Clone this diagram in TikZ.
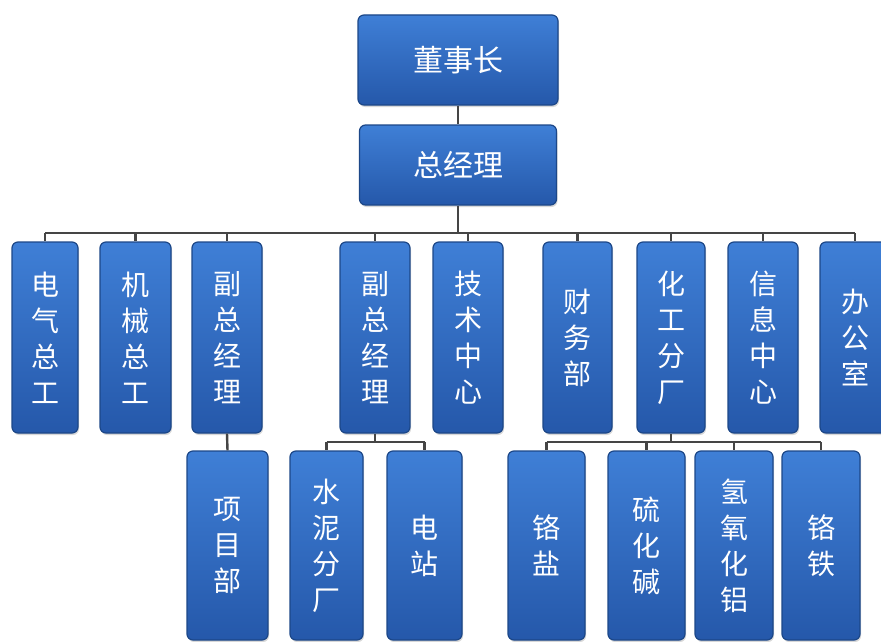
\documentclass[tikz,border=0pt]{standalone}
\usepackage{fontspec}
\newfontfamily\cjk{Noto Sans CJK SC}
\usetikzlibrary{shadows}
\definecolor{boxtop}{HTML}{3F7FD6}
\definecolor{boxmid}{HTML}{2F6CC6}
\definecolor{boxbot}{HTML}{2558AA}
\definecolor{boxedge}{HTML}{1C4788}
\definecolor{lineclr}{HTML}{454545}
\begin{document}
\begin{tikzpicture}[x=1pt,y=-1pt,
  orgbox/.style={rectangle, rounded corners=6pt, draw=boxedge, line width=1.2pt,
    top color=boxtop, middle color=boxmid, bottom color=boxbot,
    text=white, align=center, inner sep=0pt,
    font=\cjk\fontsize{28}{36}\selectfont,
    drop shadow={opacity=0.3, shadow xshift=1pt, shadow yshift=-2pt}},
  topbox/.style={orgbox, font=\cjk\fontsize{30}{36}\selectfont},
  midbox/.style={orgbox, minimum height=191pt},
  botbox/.style={orgbox, minimum height=189pt},
  conn/.style={draw=lineclr, line width=2.4pt}]
\fill[white] (0,0) rectangle (881,642);
\useasboundingbox (0,0) rectangle (881,642);

% top
\node[topbox, minimum width=200pt, minimum height=90pt] (ceo) at (458,60) {董事长};
\node[topbox, minimum width=197pt, minimum height=80pt] (gm) at (458,165) {总经理};

% middle row
\node[midbox, minimum width=66pt] (m1) at (45,337.5) {电\\气\\总\\工};
\node[midbox, minimum width=71pt] (m2) at (135.5,337.5) {机\\械\\总\\工};
\node[midbox, minimum width=70pt] (m3) at (227,337.5) {副\\总\\经\\理};
\node[midbox, minimum width=70pt] (m4) at (375,337.5) {副\\总\\经\\理};
\node[midbox, minimum width=70pt] (m5) at (468,337.5) {技\\术\\中\\心};
\node[midbox, minimum width=69pt] (m6) at (577.5,337.5) {财\\务\\部};
\node[midbox, minimum width=68pt] (m7) at (671,337.5) {化\\工\\分\\厂};
\node[midbox, minimum width=70pt] (m8) at (763,337.5) {信\\息\\中\\心};
\node[midbox, minimum width=70pt] (m9) at (855,337.5) {办\\公\\室};

% bottom row
\node[botbox, minimum width=81pt] (b1) at (227.5,545.5) {项\\目\\部};
\node[botbox, minimum width=73pt] (b2) at (326.5,545.5) {水\\泥\\分\\厂};
\node[botbox, minimum width=75pt] (b3) at (424.5,545.5) {电\\站};
\node[botbox, minimum width=77pt] (b4) at (546.5,545.5) {铬\\盐};
\node[botbox, minimum width=77pt] (b5) at (646.5,545.5) {硫\\化\\碱};
\node[botbox, minimum width=78pt] (b6) at (734,545.5) {氢\\氧\\化\\铝};
\node[botbox, minimum width=78pt] (b7) at (821,545.5) {铬\\铁};

% connectors
\coordinate (bar) at (0,233);
\coordinate (bartwo) at (0,442);
\draw[conn] (ceo.south) -- (gm.north);
\draw[conn] (gm.south) -- (gm.south |- bar);
\draw[conn] (m1.north |- bar) -- (m9.north |- bar);
\foreach \n in {m1,m2,m3,m4,m5,m6,m7,m8,m9}
  \draw[conn] (\n.north |- bar) -- (\n.north);

\draw[conn] (m3.south) -- (b1.north);

\draw[conn] (m4.south) -- (m4.south |- bartwo);
\draw[conn] (b2.north |- bartwo) -- (b3.north |- bartwo);
\foreach \n in {b2,b3}
  \draw[conn] (\n.north |- bartwo) -- (\n.north);

\draw[conn] (m7.south) -- (m7.south |- bartwo);
\draw[conn] (b4.north |- bartwo) -- (b7.north |- bartwo);
\foreach \n in {b4,b5,b6,b7}
  \draw[conn] (\n.north |- bartwo) -- (\n.north);
\end{tikzpicture}
\end{document}
